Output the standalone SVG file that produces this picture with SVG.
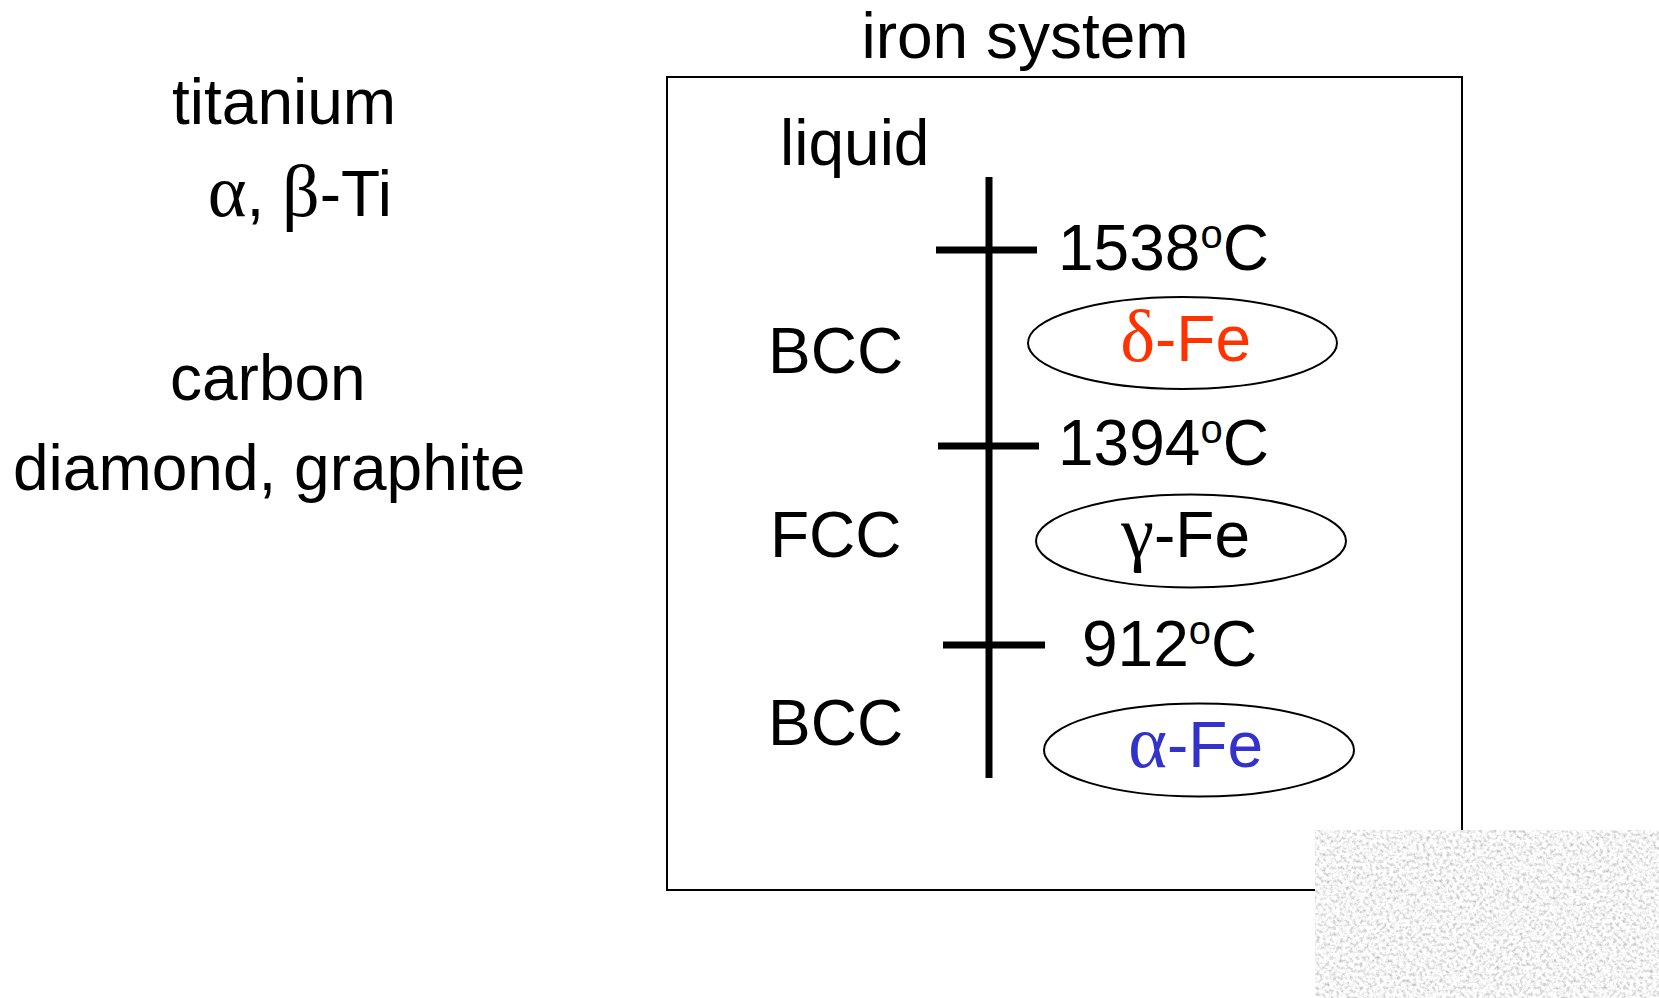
<svg xmlns="http://www.w3.org/2000/svg" width="1659" height="998" viewBox="0 0 1659 998">
<style>
text{font-family:"Liberation Sans",Arial,sans-serif;font-size:64px;fill:#000}
.g{font-family:"Liberation Serif","Times New Roman",serif;font-size:74px}
.sup{font-size:40px}
.ell{fill:none;stroke:#000;stroke-width:2}
.scale{stroke:#000;stroke-width:7;fill:none}
</style>
<defs>
<filter id="noise" x="0" y="0" width="100%" height="100%" filterUnits="objectBoundingBox">
<feTurbulence type="fractalNoise" baseFrequency="0.3" numOctaves="3" seed="7" result="t"/>
<feColorMatrix in="t" type="matrix" values="1.1 0 0 0 0.36 1.1 0 0 0 0.36 1.1 0 0 0 0.36 0 0 0 0 1"/>
</filter>
</defs>
<rect width="1659" height="998" fill="#fff"/>
<g id="left-notes">
<text x="172" y="124">titanium</text>
<text x="392" y="216" text-anchor="end"><tspan class="g">α</tspan>, <tspan class="g">β</tspan>-Ti</text>
<text x="170" y="400">carbon</text>
<text x="13" y="490">diamond, graphite</text>
</g>
<g id="iron-system">
<text x="1025" y="58" text-anchor="middle">iron system</text>
<rect x="667" y="77" width="795" height="813" fill="none" stroke="#000" stroke-width="2"/>
</g>
<g id="connectors">
<line class="scale" x1="989" y1="177" x2="989" y2="778"/>
<line class="scale" x1="936" y1="250" x2="1037" y2="250"/>
<line class="scale" x1="938" y1="446" x2="1039" y2="446"/>
<line class="scale" x1="943" y1="645" x2="1045" y2="645"/>
</g>
<g id="liquid"><text x="780" y="165">liquid</text></g>
<g id="t1538"><text x="1058" y="270">1538<tspan class="sup" dy="-22">o</tspan><tspan dy="22">C</tspan></text></g>
<g id="bcc-delta">
<text x="768" y="373">BCC</text>
<ellipse class="ell" cx="1182.5" cy="343" rx="154.5" ry="46"/>
<text x="1251" y="361" text-anchor="end" style="fill:#ff3300"><tspan class="g">δ</tspan>-Fe</text>
</g>
<g id="t1394"><text x="1058" y="465">1394<tspan class="sup" dy="-22">o</tspan><tspan dy="22">C</tspan></text></g>
<g id="fcc-gamma">
<text x="770" y="557">FCC</text>
<ellipse class="ell" cx="1191" cy="541" rx="155" ry="46.5"/>
<text x="1250" y="557" text-anchor="end"><tspan class="g">γ</tspan>-Fe</text>
</g>
<g id="t912"><text x="1082" y="666">912<tspan class="sup" dy="-22">o</tspan><tspan dy="22">C</tspan></text></g>
<g id="bcc-alpha">
<text x="768" y="745">BCC</text>
<ellipse class="ell" cx="1199" cy="750" rx="155" ry="46.5"/>
<text x="1263" y="767" text-anchor="end" style="fill:#3333cc"><tspan class="g">α</tspan>-Fe</text>
</g>
<rect id="texture" x="1315" y="830" width="344" height="168" fill="#e6e6e6" filter="url(#noise)"/>
</svg>
